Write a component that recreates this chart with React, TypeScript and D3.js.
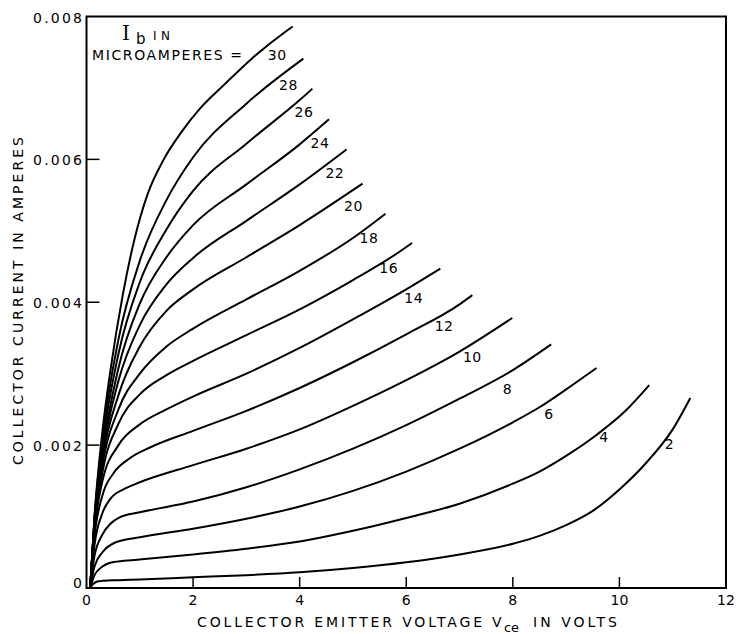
import React from "react";
import * as d3 from "d3";

type Pt = [number, number]; // [Vce in volts, Ic in amperes]

// one array per base current (microamperes)
const ib2: Pt[] = [[0.07, 0], [0.12, 0.00005], [0.2, 0.00009], [0.3, 0.0001], [0.6, 0.00011], [1.0, 0.00012], [2, 0.00015], [3, 0.00018], [4, 0.00022], [5, 0.00028], [6, 0.00036], [7, 0.00047], [8, 0.00062], [8.5, 0.00073], [9, 0.00088], [9.5, 0.00108], [10, 0.00138], [10.5, 0.00175], [11, 0.00222], [11.33, 0.00266]];
const ib4: Pt[] = [[0.07, 0], [0.15, 0.00018], [0.3, 0.0003], [0.43, 0.00035], [0.7, 0.00038], [1, 0.0004], [2, 0.00047], [3, 0.00055], [4, 0.00065], [5, 0.0008], [6, 0.00098], [7, 0.00118], [8, 0.00146], [8.5, 0.00163], [9, 0.00185], [9.6, 0.00216], [10.1, 0.00247], [10.56, 0.00284]];
const ib6: Pt[] = [[0.07, 0], [0.15, 0.0003], [0.3, 0.0005], [0.55, 0.00064], [1, 0.00071], [2, 0.00083], [3, 0.00097], [4, 0.00114], [5, 0.00136], [6, 0.00163], [7, 0.00195], [8, 0.00232], [8.5, 0.00253], [9, 0.00278], [9.57, 0.00308]];
const ib8: Pt[] = [[0.07, 0], [0.15, 0.00045], [0.3, 0.00075], [0.45, 0.0009], [0.62, 0.00099], [1, 0.00106], [2, 0.00121], [3, 0.00141], [4, 0.00166], [5, 0.00195], [6, 0.00228], [7, 0.00265], [8, 0.00305], [8.72, 0.00341]];
const ib10: Pt[] = [[0.07, 0], [0.15, 0.0006], [0.3, 0.00105], [0.45, 0.00125], [0.75, 0.0014], [1, 0.00148], [2, 0.00172], [3, 0.00195], [4, 0.00222], [5, 0.00255], [6, 0.00291], [7, 0.00331], [7.99, 0.00378]];
const ib12: Pt[] = [[0.07, 0], [0.15, 0.00072], [0.3, 0.0013], [0.5, 0.0016], [0.8, 0.00181], [1.2, 0.00197], [2, 0.0022], [3, 0.00248], [4, 0.0028], [5, 0.00316], [6, 0.00355], [7, 0.00397], [7.24, 0.0041]];
const ib14: Pt[] = [[0.07, 0], [0.15, 0.0008], [0.3, 0.0015], [0.6, 0.002], [1, 0.00229], [1.5, 0.0025], [2, 0.00268], [3, 0.003], [4, 0.00336], [5, 0.00376], [6, 0.00418], [6.64, 0.00447]];
const ib16: Pt[] = [[0.07, 0], [0.15, 0.00085], [0.3, 0.00162], [0.6, 0.0023], [1, 0.00271], [1.5, 0.00298], [2, 0.00318], [3, 0.00354], [4, 0.0039], [5, 0.00431], [5.84, 0.00469], [6.11, 0.00483]];
const ib18: Pt[] = [[0.07, 0], [0.15, 0.00088], [0.3, 0.00172], [0.6, 0.0025], [1, 0.003], [1.5, 0.00338], [2, 0.00363], [3, 0.00404], [4, 0.00444], [5, 0.0049], [5.61, 0.00524]];
const ib20: Pt[] = [[0.07, 0], [0.15, 0.0009], [0.3, 0.0018], [0.6, 0.0027], [1, 0.00338], [1.5, 0.00388], [2, 0.00418], [3, 0.00463], [4, 0.00508], [5.18, 0.00566]];
const ib22: Pt[] = [[0.07, 0], [0.15, 0.00092], [0.3, 0.00185], [0.6, 0.0029], [1, 0.00368], [1.5, 0.00425], [2, 0.00462], [3, 0.00514], [4, 0.00565], [4.88, 0.00614]];
const ib24: Pt[] = [[0.07, 0], [0.15, 0.00094], [0.3, 0.0019], [0.6, 0.00308], [1, 0.00398], [1.5, 0.00463], [2, 0.00508], [3, 0.00565], [4, 0.00621], [4.55, 0.00656]];
const ib26: Pt[] = [[0.07, 0], [0.15, 0.00096], [0.3, 0.002], [0.6, 0.00328], [1, 0.00428], [1.5, 0.00502], [2, 0.00556], [3, 0.00622], [4, 0.00683], [4.24, 0.00699]];
const ib28: Pt[] = [[0.07, 0], [0.15, 0.00098], [0.3, 0.0021], [0.6, 0.00348], [1, 0.00458], [1.5, 0.00543], [2, 0.00603], [3, 0.00678], [4.07, 0.00741]];
const ib30: Pt[] = [[0.07, 0], [0.15, 0.001], [0.3, 0.0022], [0.45, 0.00305], [0.68, 0.0041], [0.89, 0.00485], [1.14, 0.0055], [1.45, 0.006], [1.77, 0.00637], [2.14, 0.00672], [2.59, 0.00705], [3.1, 0.00741], [3.72, 0.00778], [3.87, 0.00786]];

const ibValues = [2, 4, 6, 8, 10, 12, 14, 16, 18, 20, 22, 24, 26, 28, 30];
const ibSeries = [ib2, ib4, ib6, ib8, ib10, ib12, ib14, ib16, ib18, ib20, ib22, ib24, ib26, ib28, ib30];
// where each "2".."30" label sits, in data units
const labelAt: Pt[] = [[10.94, 0.00202], [9.71, 0.00212], [8.68, 0.00244], [7.9, 0.00279], [7.24, 0.00323], [6.71, 0.00367], [6.14, 0.00406], [5.67, 0.00448], [5.3, 0.0049], [5.01, 0.00535], [4.66, 0.00581], [4.38, 0.00623], [4.08, 0.00666], [3.79, 0.00704], [3.58, 0.00746]];

const xTickValues = [0, 2, 4, 6, 8, 10, 12];
const yTickValues = [0, 0.002, 0.004, 0.006, 0.008];
const yTickLabels = ["0", "0.002", "0.004", "0.006", "0.008"];

const FONT = "'DejaVu Sans', sans-serif";

export default function App() {
  const W = 737;
  const H = 634;

  const x = d3.scaleLinear().domain([0, 12]).range([86.5, 726]);
  const y = d3.scaleLinear().domain([0, 0.008]).range([588, 16.5]);

  const line = d3.line<Pt>()
    .x(d => x(d[0]))
    .y(d => y(d[1]))
    .curve(d3.curveMonotoneX);

  return (
    <svg width={W} height={H} style={{ position: "absolute", left: 0, top: 0, background: "#fff" }}
      fontFamily={FONT}>
      {/* frame */}
      <rect x={x(0)} y={y(0.008)} width={x(12) - x(0)} height={y(0) - y(0.008)}
        fill="none" stroke="#000" strokeWidth={2} />

      {/* inward ticks */}
      {xTickValues.slice(1, -1).map(v => (
        <line key={"xt" + v} x1={x(v)} x2={x(v)} y1={y(0)} y2={y(0) - 11} stroke="#000" strokeWidth={1.5} />
      ))}
      {yTickValues.slice(1, -1).map(v => (
        <line key={"yt" + v} x1={x(0)} x2={x(0) + 13} y1={y(v)} y2={y(v)} stroke="#000" strokeWidth={1.5} />
      ))}

      {/* tick labels */}
      {xTickValues.map(v => (
        <text key={"xl" + v} x={x(v)} y={y(0) + 17} fontSize={14} textAnchor="middle">{v}</text>
      ))}
      {yTickValues.map((v, i) => v === 0 ? (
        <text key={"yl" + v} x={73} y={y(v)} fontSize={14}>{yTickLabels[i]}</text>
      ) : (
        <text key={"yl" + v} x={33} y={y(v) + 6} fontSize={14} textLength={49} lengthAdjust="spacing">{yTickLabels[i]}</text>
      ))}

      {/* characteristic curves */}
      {ibSeries.map((pts, i) => (
        <path key={"c" + ibValues[i]} d={line(pts) ?? ""} fill="none" stroke="#000" strokeWidth={2} />
      ))}
      {ibValues.map((ib, i) => (
        <text key={"lb" + ib} x={x(labelAt[i][0])} y={y(labelAt[i][1]) + 5} fontSize={14}
          textAnchor="middle" letterSpacing={0.5}>{ib}</text>
      ))}

      {/* legend heading */}
      <text x={122} y={40} fontSize={20} fontFamily="'DejaVu Serif', serif">I</text>
      <text x={136} y={44} fontSize={15}>b</text>
      <text x={153} y={40} fontSize={12} textLength={17} lengthAdjust="spacing">IN</text>
      <text x={92} y={60} fontSize={14} textLength={150} lengthAdjust="spacing">MICROAMPERES =</text>

      {/* axis titles */}
      <text x={197} y={627} fontSize={14} textLength={285} lengthAdjust="spacing">COLLECTOR EMITTER VOLTAGE</text>
      <text x={492} y={627} fontSize={14}>V</text>
      <text x={504} y={632} fontSize={13} textLength={15} lengthAdjust="spacing">ce</text>
      <text x={533} y={627} fontSize={14} textLength={84} lengthAdjust="spacing">IN VOLTS</text>
      <text transform="translate(23,465) rotate(-90)" fontSize={14} textLength={328} lengthAdjust="spacing">
        COLLECTOR CURRENT IN AMPERES
      </text>
    </svg>
  );
}
